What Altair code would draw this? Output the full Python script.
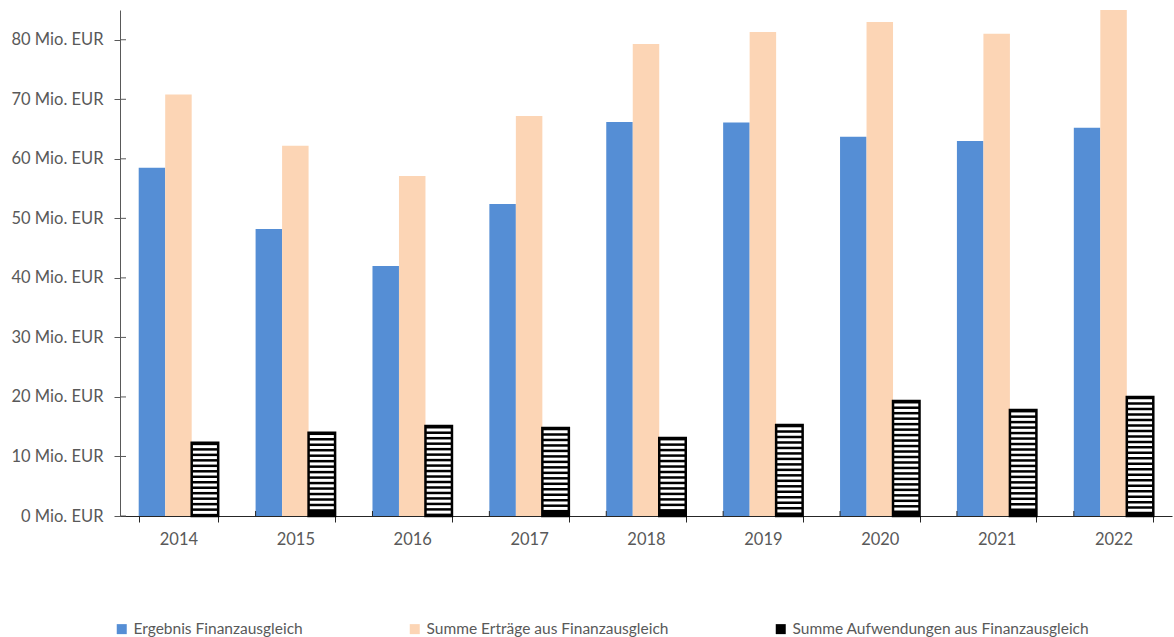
import altair as alt
import pandas as pd
import numpy as np

years = ["2014", "2015", "2016", "2017", "2018", "2019", "2020", "2021", "2022"]
series = ["Ergebnis Finanzausgleich",
          "Summe Erträge aus Finanzausgleich",
          "Summe Aufwendungen aus Finanzausgleich"]
ergebnis = [58.5, 48.2, 42.0, 52.4, 66.2, 66.1, 63.7, 63.0, 65.2]
ertraege = [70.8, 62.2, 57.1, 67.2, 79.3, 81.3, 83.0, 81.0, 85.0]
aufwendungen = [12.3, 14.0, 15.1, 14.8, 13.1, 15.3, 19.3, 17.8, 20.0]
y_ticks = [0, 10, 20, 30, 40, 50, 60, 70, 80]
colors = ["#558ED5", "#FCD5B5", "#000000"]

FONT = "Lato"
TXT = "#595959"

rows = []
for i, y in enumerate(years):
    for s, vals in zip(series, [ergebnis, ertraege, aufwendungen]):
        rows.append({"Jahr": y, "Reihe": s, "Wert": vals[i]})
df = pd.DataFrame(rows)
df_hatch = df[df["Reihe"] == series[2]]

# white gaps for the striped (hatched) series, laid from the top down
period, gap = 0.92, 0.5
stripes = []
for y, v in zip(years, aufwendungen):
    hi = v - 0.4
    while hi - gap > 0.35:
        stripes.append({"Jahr": y, "Reihe": series[2], "lo": hi - gap, "hi": hi})
        hi -= period
sdf = pd.DataFrame(stripes)

W, H = 1052, 506

xscale = alt.Scale(domain=years, paddingInner=0.32, paddingOuter=0.16)
yscale = alt.Scale(domain=[0, 85], nice=False)
offscale = alt.Scale(domain=series)

bars = alt.Chart(df).mark_bar().encode(
    x=alt.X("Jahr:N", scale=xscale, title=None,
            axis=alt.Axis(tickBand="extent", tickSize=6, labelAngle=0,
                          labelFontSize=16.5, labelColor=TXT, labelFont=FONT,
                          labelPadding=9, domainColor="#262626", tickColor="#262626",
                          grid=False)),
    xOffset=alt.XOffset("Reihe:N", scale=offscale, sort=series),
    y=alt.Y("Wert:Q", scale=yscale, title=None,
            axis=alt.Axis(values=y_ticks, labelExpr="datum.value + ' Mio. EUR'",
                          tickSize=6, labelPadding=11, labelFontSize=16.5,
                          labelColor=TXT, labelFont=FONT, grid=False,
                          domainColor="#595959", tickColor="#595959")),
    color=alt.Color("Reihe:N", scale=alt.Scale(domain=series, range=colors),
                    sort=series,
                    legend=alt.Legend(title=None, orient="none", direction="horizontal",
                                      legendX=-6, legendY=611, columnPadding=104,
                                      symbolType="square", symbolSize=100,
                                      symbolStrokeWidth=0, labelFontSize=15.5,
                                      labelLimit=600,
                                      labelColor=TXT, labelFont=FONT, labelOffset=4)),
)

white = alt.Chart(sdf).mark_bar(color="white").encode(
    x=alt.X("Jahr:N", scale=xscale),
    xOffset=alt.XOffset("Reihe:N", scale=offscale),
    y=alt.Y("lo:Q", scale=yscale),
    y2="hi:Q",
)

outline = alt.Chart(df_hatch).mark_bar(fillOpacity=0, stroke="black", strokeWidth=2.5).encode(
    x=alt.X("Jahr:N", scale=xscale),
    xOffset=alt.XOffset("Reihe:N", scale=offscale),
    y=alt.Y("Wert:Q", scale=yscale),
)

yt = alt.Chart(pd.DataFrame({"t": y_ticks})).mark_rule(color="#595959").encode(
    y=alt.Y("t:Q", scale=yscale), x=alt.value(0), x2=alt.value(6))

xt = alt.Chart(pd.DataFrame({"Jahr": years[1:]})).mark_rule(color="#262626").encode(
    x=alt.X("Jahr:N", scale=xscale, bandPosition=0), y=alt.value(H - 5), y2=alt.value(H))

chart = alt.layer(bars, white, outline, yt, xt).properties(
    width=W, height=H,
    autosize=alt.AutoSizeParams(type="none"),
    padding={"left": 120, "top": 10, "right": 2, "bottom": 121},
).configure(background="white").configure_view(stroke=None)

chart.save("out.html", embed_options={"renderer": "svg", "actions": False})
